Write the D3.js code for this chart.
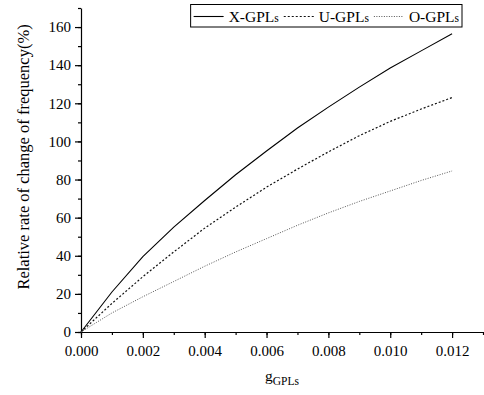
<!DOCTYPE html>
<html>
<head>
<meta charset="utf-8">
<script src="https://cdn.jsdelivr.net/npm/d3@7"></script>
<style>
  body { margin: 0; background: #fff; }
  svg { display: block; font-family: "Liberation Serif", "DejaVu Serif", serif; }
</style>
</head>
<body>
<div class="chart"></div>
<script>
var width = 484;
var height = 395;

// data
var g_values = [0, 0.001, 0.002, 0.003, 0.004, 0.005, 0.006, 0.007, 0.008, 0.009, 0.010, 0.011, 0.012];
var x_gpls = [0, 21, 39.5, 55, 69, 82.5, 95, 107, 118, 128.5, 138.5, 147.5, 156.5];
var u_gpls = [0, 15, 29, 42, 54.5, 65.5, 76, 85.5, 94.5, 103, 110.5, 117, 123];
var o_gpls = [0, 10, 18.5, 26.5, 34.5, 42, 49, 56, 62.5, 68.5, 74, 79.5, 84.5];
var series_names = ["X-GPLs", "U-GPLs", "O-GPLs"];
var x_ticks = [0, 0.002, 0.004, 0.006, 0.008, 0.010, 0.012];
var y_ticks = [0, 20, 40, 60, 80, 100, 120, 140, 160];

var margin = { top: 8, right: 1, bottom: 63, left: 81 };

var svg = d3.select(".chart").append("svg")
    .attr("width", width)
    .attr("height", height);

var x_scale = d3.scaleLinear()
    .domain([0, 0.013])
    .range([margin.left, width - margin.right]);

var y_scale = d3.scaleLinear()
    .domain([0, 170])
    .range([height - margin.bottom, margin.top]);

// minor ticks
var x_minor = d3.range(0, 0.0131, 0.001);
var y_minor = d3.range(0, 171, 10);

svg.append("g")
    .attr("transform", "translate(0," + (height - margin.bottom) + ")")
    .call(d3.axisBottom(x_scale).tickValues(x_minor).tickSize(3).tickFormat(""))
    .call(g => g.select(".domain").remove());

svg.append("g")
    .attr("transform", "translate(" + margin.left + ",0)")
    .call(d3.axisLeft(y_scale).tickValues(y_minor).tickSize(3).tickFormat(""))
    .call(g => g.select(".domain").remove());

// major axes
var x_axis = svg.append("g")
    .attr("transform", "translate(0," + (height - margin.bottom) + ")")
    .call(d3.axisBottom(x_scale).tickValues(x_ticks).tickSize(6).tickSizeOuter(0).tickPadding(7).tickFormat(d3.format(".3f")));

var y_axis = svg.append("g")
    .attr("transform", "translate(" + margin.left + ",0)")
    .call(d3.axisLeft(y_scale).tickValues(y_ticks).tickSize(6).tickSizeOuter(0).tickPadding(4));

svg.selectAll(".tick text")
    .attr("font-family", "Liberation Serif")
    .attr("font-size", "15px")
    .attr("fill", "#000");
svg.selectAll(".domain, .tick line").attr("stroke", "#000").attr("stroke-width", 1.2);

// lines
var series = [
    { name: series_names[0], values: x_gpls, color: "#000", dash: null, width: 1.1 },
    { name: series_names[1], values: u_gpls, color: "#111", dash: "2,2", width: 1.2 },
    { name: series_names[2], values: o_gpls, color: "#555", dash: "1,1.5", width: 1 }
];

var line = d3.line()
    .curve(d3.curveLinear)
    .x((d, i) => x_scale(g_values[i]))
    .y(d => y_scale(d));

svg.append("g").selectAll("path")
    .data(series)
    .enter()
    .append("path")
    .attr("d", d => line(d.values))
    .attr("fill", "none")
    .attr("stroke", d => d.color)
    .attr("stroke-width", d => d.width)
    .attr("stroke-dasharray", d => d.dash);

// legend (laid out from 0, then moved so the box ends near the right edge)
var legend = svg.append("g");
var leg_box = legend.append("rect")
    .attr("fill", "#fff")
    .attr("stroke", "#000")
    .attr("stroke-width", 1);

var lx = 3;
var ly = 16.5;
series.forEach(function(s) {
    legend.append("line")
        .attr("x1", lx).attr("x2", lx + 30)
        .attr("y1", ly).attr("y2", ly)
        .attr("stroke", s.color)
        .attr("stroke-width", s.width)
        .attr("stroke-dasharray", s.dash);
    var t = legend.append("text")
        .attr("x", lx + 35)
        .attr("y", ly + 5)
        .attr("font-size", "15.5px");
    t.append("tspan").text(s.name.slice(0, -1));
    t.append("tspan").attr("font-size", "11.5px").text("s");
    lx = lx + 35 + t.node().getComputedTextLength() + 5;
});
leg_box.attr("x", 0).attr("y", 4.5).attr("width", lx - 2).attr("height", 22.5);
legend.attr("transform", "translate(" + (462 - (lx - 2)) + ",0)");

// axis titles
var x_title = svg.append("text")
    .attr("x", 265)
    .attr("y", 381)
    .attr("font-size", "15.5px");
x_title.append("tspan").text("g");
x_title.append("tspan").attr("font-size", "11.5px").attr("dy", 4).text("GPLs");

svg.append("text")
    .attr("transform", "translate(29," + 157 + ") rotate(-90)")
    .attr("text-anchor", "middle")
    .attr("font-size", "16.5px")
    .text("Relative rate of change of frequency(%)");
</script>
</body>
</html>
